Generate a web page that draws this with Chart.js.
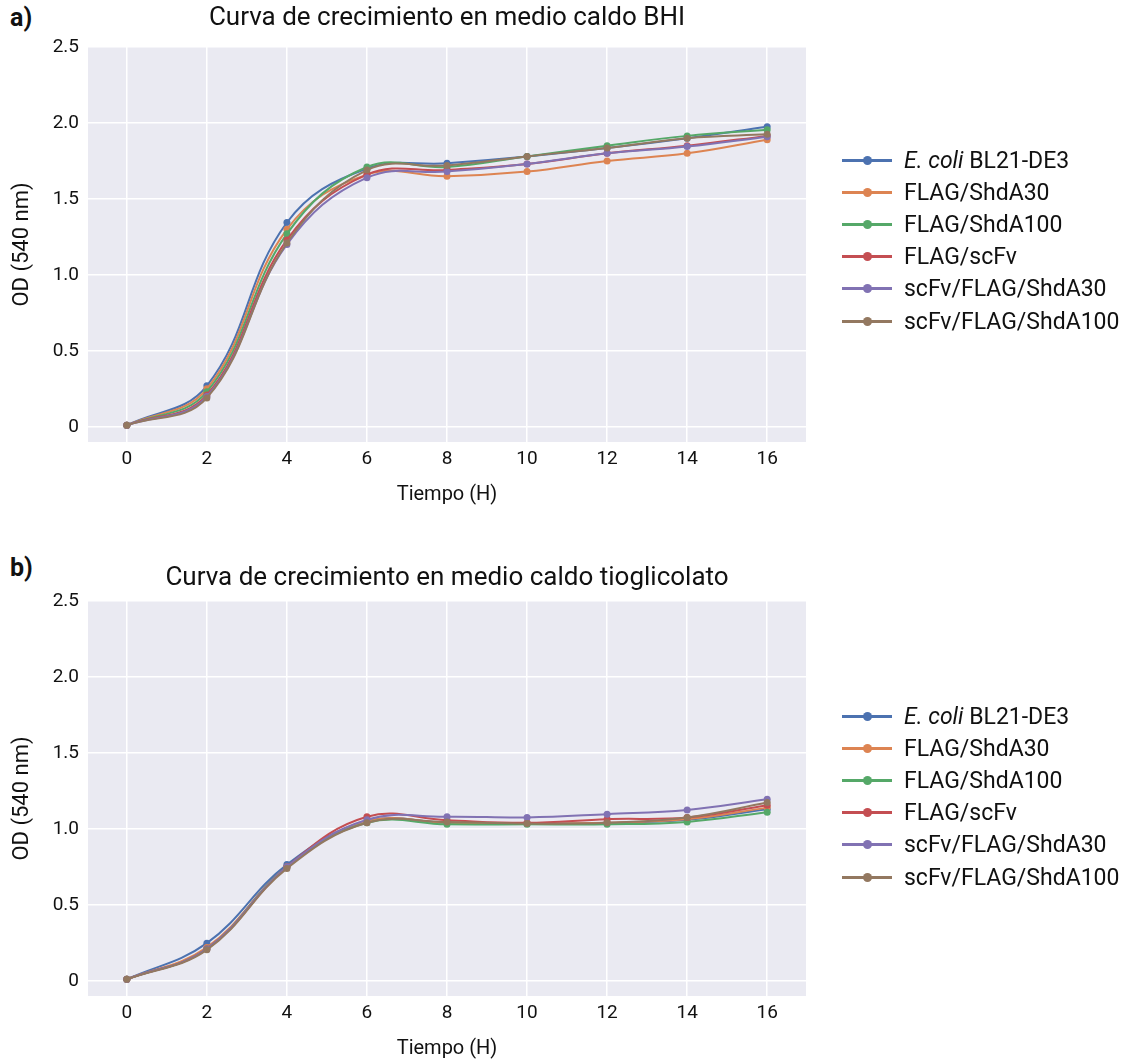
<!DOCTYPE html>
<html>
<head>
<meta charset="utf-8">
<script src="https://cdn.jsdelivr.net/npm/chart.js@4.4.1/dist/chart.umd.min.js"></script>
<style>
  body { margin: 0; background: #fff; font-family: Roboto, sans-serif; }
  #page { position: relative; width: 1132px; height: 1061px; }
  .panel { position: absolute; left: 0; width: 1132px; height: 507px; }
  .tag { position: absolute; left: 10px; font-weight: bold; font-size: 25px; color: #111; }
  .legend { position: absolute; left: 842px; }
  .legend .row { position: relative; height: 32.2px; display: flex; align-items: center; font-size: 23px; color: #111; white-space: nowrap; }
  .legend .swatch { position: relative; width: 50px; height: 3px; margin-right: 12px; }
  .legend .swatch i { position: absolute; left: 21px; top: -3px; width: 9px; height: 9px; border-radius: 50%; background: inherit; }
</style>
</head>
<body>
<div id="page">
  <div class="tag" style="top:3px">a)</div>
  <div class="panel" style="top:0"><canvas id="chartA" width="1132" height="507"></canvas></div>
  <div class="legend" id="legendA" style="top:144px"></div>

  <div class="tag" style="top:553px">b)</div>
  <div class="panel" style="top:554px"><canvas id="chartB" width="1132" height="507"></canvas></div>
  <div class="legend" id="legendB" style="top:700px"></div>
</div>
<script>
// Time points (hours)
const hours = [0, 2, 4, 6, 8, 10, 12, 14, 16];
const yTicks = [0, 0.5, 1.0, 1.5, 2.0, 2.5];
const yTickLabels = ['0', '0.5', '1.0', '1.5', '2.0', '2.5'];

// Strains (legend names) and seaborn "deep" colours
const strains = ['E. coli BL21-DE3', 'FLAG/ShdA30', 'FLAG/ShdA100', 'FLAG/scFv', 'scFv/FLAG/ShdA30', 'scFv/FLAG/ShdA100'];
const strainColors = ['#4C72B0', '#DD8452', '#55A868', '#C44E52', '#8172B3', '#937860'];

// a) BHI broth - OD (540 nm)
const bhiEcoli      = [0.01, 0.27, 1.345, 1.70, 1.735, 1.78, 1.835, 1.90, 1.975];
const bhiShdA30     = [0.01, 0.25, 1.30, 1.66, 1.65, 1.68, 1.75, 1.80, 1.89];
const bhiShdA100    = [0.01, 0.23, 1.27, 1.71, 1.71, 1.78, 1.85, 1.915, 1.955];
const bhiScFv       = [0.01, 0.21, 1.23, 1.66, 1.69, 1.73, 1.80, 1.85, 1.915];
const bhiScFvA30    = [0.01, 0.20, 1.20, 1.64, 1.68, 1.73, 1.80, 1.845, 1.91];
const bhiScFvA100   = [0.01, 0.19, 1.21, 1.69, 1.72, 1.78, 1.835, 1.90, 1.925];

// b) Thioglycollate broth - OD (540 nm)
const tioEcoli      = [0.01, 0.248, 0.765, 1.05, 1.04, 1.035, 1.04, 1.06, 1.13];
const tioShdA30     = [0.01, 0.22, 0.75, 1.05, 1.04, 1.035, 1.04, 1.065, 1.14];
const tioShdA100    = [0.01, 0.21, 0.75, 1.04, 1.03, 1.03, 1.03, 1.046, 1.11];
const tioScFv       = [0.01, 0.21, 0.75, 1.08, 1.057, 1.04, 1.064, 1.075, 1.156];
const tioScFvA30    = [0.01, 0.21, 0.75, 1.06, 1.08, 1.075, 1.097, 1.125, 1.195];
const tioScFvA100   = [0.01, 0.204, 0.74, 1.04, 1.045, 1.035, 1.04, 1.075, 1.173];

const bhiSeries = [bhiEcoli, bhiShdA30, bhiShdA100, bhiScFv, bhiScFvA30, bhiScFvA100];
const tioSeries = [tioEcoli, tioShdA30, tioShdA100, tioScFv, tioScFvA30, tioScFvA100];

const FONT = 'Roboto, sans-serif';

// grey plot background like seaborn darkgrid
const plotBackground = {
    id: 'plotBackground',
    beforeDraw(chart) {
        const { ctx, chartArea: a } = chart;
        ctx.save();
        ctx.fillStyle = '#EAEAF2';
        ctx.fillRect(a.left, a.top, a.right - a.left, a.bottom - a.top);
        ctx.restore();
    }
};

function makeChart(canvasId, title, series, titlePad) {
    const datasets = series.map((values, i) => ({
        label: strains[i],
        data: values.map((v, j) => ({ x: hours[j], y: v })),
        borderColor: strainColors[i],
        backgroundColor: strainColors[i],
        borderWidth: 2,
        pointRadius: 3.5,
        pointBorderWidth: 0,
        tension: 0.4,
        order: series.length - i // later strains drawn on top
    }));

    return new Chart(document.getElementById(canvasId), {
        type: 'line',
        data: { datasets },
        plugins: [plotBackground],
        options: {
            responsive: false,
            animation: false,
            layout: { padding: { left: 0, right: 326, top: 0, bottom: 0 } },
            plugins: {
                legend: { display: false }, // drawn as HTML (italic E. coli)
                tooltip: { enabled: false },
                title: {
                    display: true,
                    text: title,
                    fullSize: false,
                    color: '#111',
                    font: { family: FONT, size: 26, weight: 'normal' },
                    padding: titlePad
                }
            },
            scales: {
                x: {
                    type: 'linear',
                    min: -0.97,
                    max: 16.97,
                    afterBuildTicks: axis => { axis.ticks = hours.map(v => ({ value: v })); },
                    afterFit: axis => { axis.height = 65; },
                    grid: { color: '#ffffff', lineWidth: 1.5, drawTicks: false },
                    border: { display: false },
                    ticks: { color: '#111', font: { family: FONT, size: 19 }, padding: 6, maxRotation: 0 },
                    title: { display: true, text: 'Tiempo (H)', color: '#111', font: { family: FONT, size: 20 }, padding: { top: 4, bottom: 0 } }
                },
                y: {
                    min: -0.1,
                    max: 2.5,
                    afterBuildTicks: axis => { axis.ticks = yTicks.map(v => ({ value: v })); },
                    afterFit: axis => { axis.width = 88; },
                    grid: { color: '#ffffff', lineWidth: 1.5, drawTicks: false },
                    border: { display: false },
                    ticks: {
                        color: '#111',
                        font: { family: FONT, size: 19 },
                        padding: 9,
                        callback: value => yTickLabels[yTicks.indexOf(value)]
                    },
                    title: { display: true, text: 'OD (540 nm)', color: '#111', font: { family: FONT, size: 22 }, padding: { top: 9, bottom: 4 } }
                }
            }
        }
    });
}

function makeLegend(elId) {
    const box = document.getElementById(elId);
    strains.forEach((name, i) => {
        const row = document.createElement('div');
        row.className = 'row';
        const sw = document.createElement('span');
        sw.className = 'swatch';
        sw.style.background = strainColors[i];
        sw.appendChild(document.createElement('i'));
        row.appendChild(sw);
        const txt = document.createElement('span');
        if (name.startsWith('E. coli')) {
            const it = document.createElement('i');
            it.textContent = 'E. coli';
            txt.appendChild(it);
            txt.appendChild(document.createTextNode(name.slice(7)));
        } else {
            txt.textContent = name;
        }
        row.appendChild(txt);
        box.appendChild(row);
    });
}

makeChart('chartA', 'Curva de crecimiento en medio caldo BHI', bhiSeries, { top: 2.4, bottom: 13.4 });
makeChart('chartB', 'Curva de crecimiento en medio caldo tioglicolato', tioSeries, { top: 8.4, bottom: 7.4 });
makeLegend('legendA');
makeLegend('legendB');
</script>
</body>
</html>
